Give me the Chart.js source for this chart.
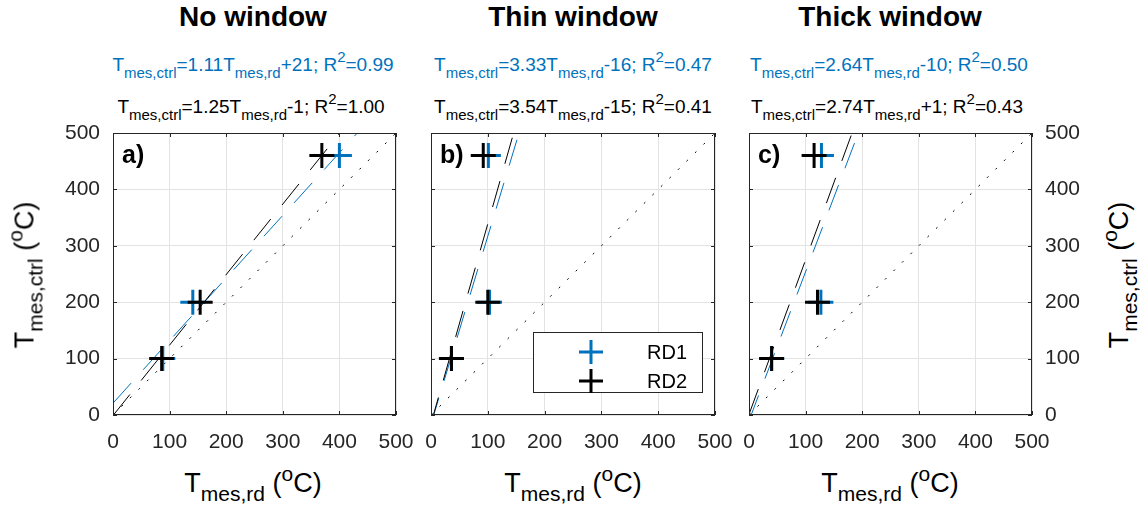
<!DOCTYPE html>
<html>
<head>
<meta charset="utf-8">
<script src="https://cdn.jsdelivr.net/npm/chart.js@4/dist/chart.umd.min.js"></script>
<style>
  body { margin:0; background:#fff; font-family:"Liberation Sans", Arial, sans-serif; }
  #wrap { position:relative; width:1146px; height:511px; overflow:hidden; }
  canvas { position:absolute; }
  .txt { position:absolute; white-space:nowrap; color:#000; }
  .title { font-weight:bold; font-size:28px; line-height:28px; transform:translateX(-50%); }
  .eq { font-size:19px; line-height:19px; transform:translateX(-50%); }
  .eq sub, .eq sup { font-size:15px; line-height:0; }
  .eq sub { vertical-align:-7px; }
  .eq sup { vertical-align:9px; }
  .blue { color:#0072BD; }
  .plab { font-weight:bold; font-size:25px; line-height:25px; }
  .axt { font-size:27px; line-height:27px; color:#000; }
  .axt sub, .axt sup { font-size:21px; line-height:0; }
  .axt sub { vertical-align:-9px; }
  .axt sup { vertical-align:11px; }
  .xt { transform:translateX(-50%); }
  .yt { transform:translate(-50%,-50%) rotate(-90deg); }
</style>
</head>
<body>
<div id="wrap">
  <canvas id="chartA" width="376" height="332" style="left:40px;top:123px"></canvas>
  <canvas id="chartB" width="314" height="332" style="left:421px;top:123px"></canvas>
  <canvas id="chartC" width="351" height="332" style="left:739px;top:123px"></canvas>

  <div class="txt title" style="left:253px;top:3px">No window</div>
  <div class="txt title" style="left:573px;top:3px">Thin window</div>
  <div class="txt title" style="left:890px;top:3px">Thick window</div>

  <div class="txt eq blue" style="left:253px;top:55px">T<sub>mes,ctrl</sub>=1.11T<sub>mes,rd</sub>+21; R<sup>2</sup>=0.99</div>
  <div class="txt eq" style="left:251px;top:97px">T<sub>mes,ctrl</sub>=1.25T<sub>mes,rd</sub>-1; R<sup>2</sup>=1.00</div>
  <div class="txt eq blue" style="left:573px;top:55px">T<sub>mes,ctrl</sub>=3.33T<sub>mes,rd</sub>-16; R<sup>2</sup>=0.47</div>
  <div class="txt eq" style="left:573px;top:97px">T<sub>mes,ctrl</sub>=3.54T<sub>mes,rd</sub>-15; R<sup>2</sup>=0.41</div>
  <div class="txt eq blue" style="left:889px;top:55px">T<sub>mes,ctrl</sub>=2.64T<sub>mes,rd</sub>-10; R<sup>2</sup>=0.50</div>
  <div class="txt eq" style="left:887px;top:97px">T<sub>mes,ctrl</sub>=2.74T<sub>mes,rd</sub>+1; R<sup>2</sup>=0.43</div>

  <div class="txt plab" style="left:122px;top:142px">a)</div>
  <div class="txt plab" style="left:440px;top:142px">b)</div>
  <div class="txt plab" style="left:758px;top:142px">c)</div>

  <div class="txt axt xt" style="left:253px;top:470px">T<sub>mes,rd</sub> (<sup>o</sup>C)</div>
  <div class="txt axt xt" style="left:573px;top:470px">T<sub>mes,rd</sub> (<sup>o</sup>C)</div>
  <div class="txt axt xt" style="left:890px;top:470px">T<sub>mes,rd</sub> (<sup>o</sup>C)</div>

  <div class="txt axt yt" style="left:25px;top:275px">T<sub>mes,ctrl</sub> (<sup>o</sup>C)</div>
  <div class="txt axt yt" style="left:1119px;top:275px">T<sub>mes,ctrl</sub> (<sup>o</sup>C)</div>
</div>

<script>
// measured temperatures (deg C)
const ctrlTemps = [100, 200, 460];
const axisTicks = [0, 100, 200, 300, 400, 500];

const rd1NoWindow = [88, 141, 400];
const rd2NoWindow = [86, 154, 369];
const rd1Thin = [36, 103, 101];
const rd2Thin = [36, 100, 92];
const rd1Thick = [40, 127, 128];
const rd2Thick = [40, 121, 115];

// linear fits [slope, intercept] as printed above each panel
const fitRd1NoWindow = [1.11, 21];
const fitRd2NoWindow = [1.25, -1];
const fitRd1Thin = [3.33, -16];
const fitRd2Thin = [3.54, -15];
const fitRd1Thick = [2.64, -10];
const fitRd2Thick = [2.74, 1];

const BLUE = '#0072BD';
const DARK = '#262626';
const FONT = '"Liberation Sans", Arial, sans-serif';

function points(xs) {
    return xs.map(function(x, i) { return {x: x, y: ctrlTemps[i]}; });
}

function fitLine(fit) {
    var lo = axisTicks[0], hi = axisTicks[axisTicks.length - 1];
    return [{x: lo, y: fit[0] * lo + fit[1]}, {x: hi, y: fit[0] * hi + fit[1]}];
}

// axes box + inward ticks, like matlab
const boxPlugin = {
    id: 'box',
    afterDraw: function(chart) {
        var ctx = chart.ctx, a = chart.chartArea;
        var xs = chart.scales.x, ys = chart.scales.y;
        ctx.save();
        ctx.strokeStyle = DARK;
        ctx.lineWidth = 1;
        ctx.strokeRect(Math.round(a.left) + 0.5, Math.round(a.top) + 0.5,
            Math.round(a.right - a.left) - 1, Math.round(a.bottom - a.top) - 1);
        ctx.beginPath();
        axisTicks.forEach(function(t) {
            var px = Math.round(xs.getPixelForValue(t)) + 0.5;
            var py = Math.round(ys.getPixelForValue(t)) + 0.5;
            ctx.moveTo(px, a.bottom); ctx.lineTo(px, a.bottom - 4);
            ctx.moveTo(px, a.top); ctx.lineTo(px, a.top + 4);
            ctx.moveTo(a.left, py); ctx.lineTo(a.left + 4, py);
            ctx.moveTo(a.right, py); ctx.lineTo(a.right - 4, py);
        });
        ctx.stroke();
        ctx.restore();
    }
};

// legend box inside the middle panel
const legendPlugin = {
    id: 'rdLegend',
    afterDraw: function(chart) {
        if (!chart.options.plugins.rdLegend || !chart.options.plugins.rdLegend.show) return;
        var ctx = chart.ctx, a = chart.chartArea;
        var x0 = a.right - 182, x1 = a.right - 13, y0 = a.bottom - 83, y1 = a.bottom - 23;
        ctx.save();
        ctx.fillStyle = '#fff';
        ctx.fillRect(x0, y0, x1 - x0, y1 - y0);
        ctx.strokeStyle = DARK;
        ctx.lineWidth = 1;
        ctx.strokeRect(Math.round(x0) + 0.5, Math.round(y0) + 0.5, Math.round(x1 - x0), Math.round(y1 - y0));
        var items = [['RD1', BLUE, a.bottom - 63], ['RD2', '#000', a.bottom - 34]];
        items.forEach(function(it) {
            var cx = a.right - 124, cy = it[2];
            ctx.strokeStyle = it[1];
            ctx.lineWidth = 3;
            ctx.beginPath();
            ctx.moveTo(cx - 12, cy); ctx.lineTo(cx + 12, cy);
            ctx.moveTo(cx, cy - 12); ctx.lineTo(cx, cy + 12);
            ctx.stroke();
            ctx.fillStyle = '#000';
            ctx.font = '20px ' + FONT;
            ctx.textBaseline = 'middle';
            ctx.textAlign = 'left';
            ctx.fillText(it[0], a.right - 68, cy + 1);
        });
        ctx.restore();
    }
};

function makePanel(id, rd1, rd2, fit1, fit2, opt) {
    var ctx = document.getElementById(id).getContext('2d');
    return new Chart(ctx, {
        type: 'scatter',
        data: {
            datasets: [
                {data: points(rd2), borderColor: '#000', backgroundColor: '#000', pointStyle: 'cross',
                    pointRadius: 12.5, borderWidth: 3, order: 0},
                {data: points(rd1), borderColor: BLUE, backgroundColor: BLUE, pointStyle: 'cross',
                    pointRadius: 12.5, borderWidth: 3, order: 1},
                {data: fitLine(fit2), showLine: true, borderColor: '#000', borderWidth: 1,
                    borderDash: [27, 18], pointRadius: 0, order: 2},
                {data: fitLine(fit1), showLine: true, borderColor: BLUE, borderWidth: 1,
                    borderDash: [27, 18], pointRadius: 0, order: 3},
                {data: [{x: axisTicks[0], y: axisTicks[0]}, {x: axisTicks[5], y: axisTicks[5]}],
                    showLine: true, borderColor: '#000', borderWidth: 1,
                    borderDash: [2, 10], pointRadius: 0, order: 4}
            ]
        },
        options: {
            responsive: false,
            animation: false,
            layout: {autoPadding: false, padding: {left: opt.padLeft, right: opt.padRight, top: 10, bottom: 0}},
            plugins: {
                legend: {display: false},
                tooltip: {enabled: false},
                rdLegend: {show: !!opt.legend}
            },
            scales: {
                x: {
                    type: 'linear', min: 0, max: 500,
                    ticks: {stepSize: 100, color: DARK, padding: 15, font: {family: FONT, size: 21}},
                    grid: {color: '#e3e3e3', drawTicks: false},
                    border: {display: false},
                    afterFit: function(s) {
                        s.height = 40;
                        s.paddingLeft = 0; s.paddingRight = 0;
                    }
                },
                y: {
                    type: 'linear', min: 0, max: 500, position: opt.yPos,
                    ticks: {display: opt.yLabels, stepSize: 100, color: DARK, padding: 13,
                        font: {family: FONT, size: 21}},
                    grid: {color: '#e3e3e3', drawTicks: false},
                    border: {display: false},
                    afterFit: function(s) {
                        s.width = opt.yWidth;
                        s.paddingTop = 0; s.paddingBottom = 0;
                    }
                }
            }
        },
        plugins: [boxPlugin, legendPlugin]
    });
}

window.onload = function() {
    makePanel('chartA', rd1NoWindow, rd2NoWindow, fitRd1NoWindow, fitRd2NoWindow,
        {yPos: 'left', yLabels: true, yWidth: 73, padLeft: 0, padRight: 20});
    makePanel('chartB', rd1Thin, rd2Thin, fitRd1Thin, fitRd2Thin,
        {yPos: 'left', yLabels: false, yWidth: 10, padLeft: 0, padRight: 20, legend: true});
    makePanel('chartC', rd1Thick, rd2Thick, fitRd1Thick, fitRd2Thick,
        {yPos: 'right', yLabels: true, yWidth: 58, padLeft: 10, padRight: 0});
};
</script>
</body>
</html>
